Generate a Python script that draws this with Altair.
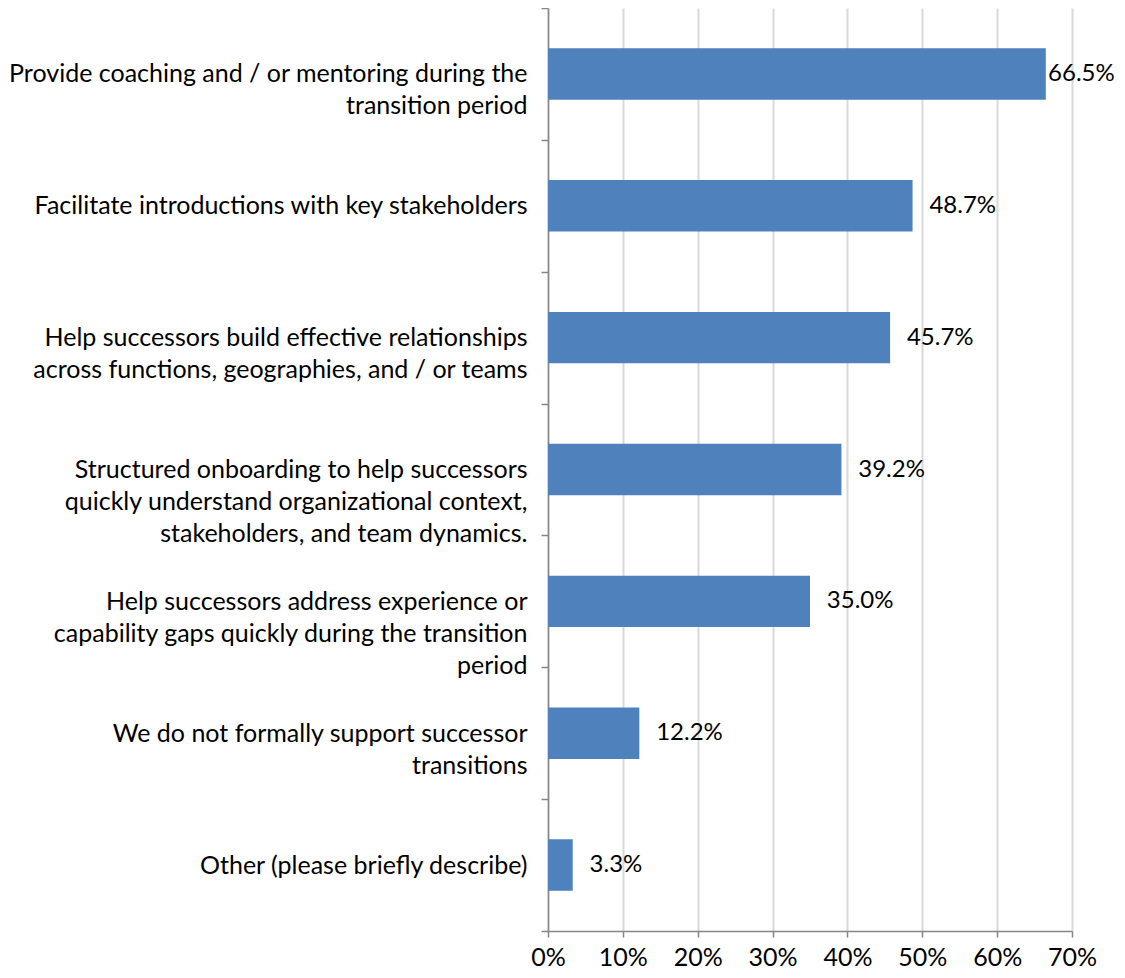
import altair as alt
import pandas as pd

categories = [
    "Provide coaching and / or mentoring during the|transition period",
    "Facilitate introductions with key stakeholders",
    "Help successors build effective relationships|across functions, geographies, and / or teams",
    "Structured onboarding to help successors|quickly understand organizational context,|stakeholders, and team dynamics.",
    "Help successors address experience or|capability gaps quickly during the transition|period",
    "We do not formally support successor|transitions",
    "Other (please briefly describe)",
]
values = [0.665, 0.487, 0.457, 0.392, 0.350, 0.122, 0.033]
x_ticks = [0, 0.1, 0.2, 0.3, 0.4, 0.5, 0.6, 0.7]

df = pd.DataFrame({"category": categories, "value": values})

FONT = "Lato"
FS = 25

y_enc = alt.Y(
    "category:N",
    sort=categories,
    title=None,
    scale=alt.Scale(paddingInner=0, paddingOuter=0),
    axis=alt.Axis(
        labelExpr="split(datum.label, '|')",
        labelFont=FONT,
        labelFontSize=FS,
        labelColor="#000000",
        labelAlign="right",
        labelBaseline="middle",
        labelLineHeight=32,
        labelPadding=14,
        labelLimit=0,
        tickBand="extent",
        tickColor="#868686",
        tickSize=7,
        tickWidth=1.5,
        domainColor="#868686",
        domainWidth=1.5,
        grid=False,
    ),
)

bars = alt.Chart(df).mark_bar(color="#4F81BD", height={"band": 0.39}).encode(
    x=alt.X(
        "value:Q",
        title=None,
        scale=alt.Scale(domain=[0, 0.7], nice=False),
        axis=alt.Axis(
            values=x_ticks,
            format=".0%",
            labelFont=FONT,
            labelFontSize=FS,
            labelColor="#000000",
            labelPadding=8,
            labelFlush=False,
            labelOverlap=False,
            tickColor="#868686",
            tickSize=6,
            tickWidth=1.5,
            domainColor="#868686",
            domainWidth=1.5,
            grid=True,
            gridColor="#d9d9d9",
            gridWidth=2,
        ),
    ),
    y=y_enc,
)

labels = alt.Chart(df).transform_calculate(
    lx="min(datum.value + 0.0225, 0.668)"
).mark_text(
    align="left", baseline="middle", font=FONT, fontSize=24, color="#000000"
).encode(
    x=alt.X("lx:Q"),
    y=alt.Y("category:N", sort=categories),
    text=alt.Text("value:Q", format=".1%"),
)

chart = (
    alt.layer(bars, labels)
    .properties(
        width=524,
        height=923,
        autosize=alt.AutoSizeParams(type="none"),
        padding={"left": 540, "top": 0, "right": 45, "bottom": 38},
    )
    .configure_view(stroke=None)
)

chart.save("out.html", embed_options={"renderer": "svg", "actions": False})
